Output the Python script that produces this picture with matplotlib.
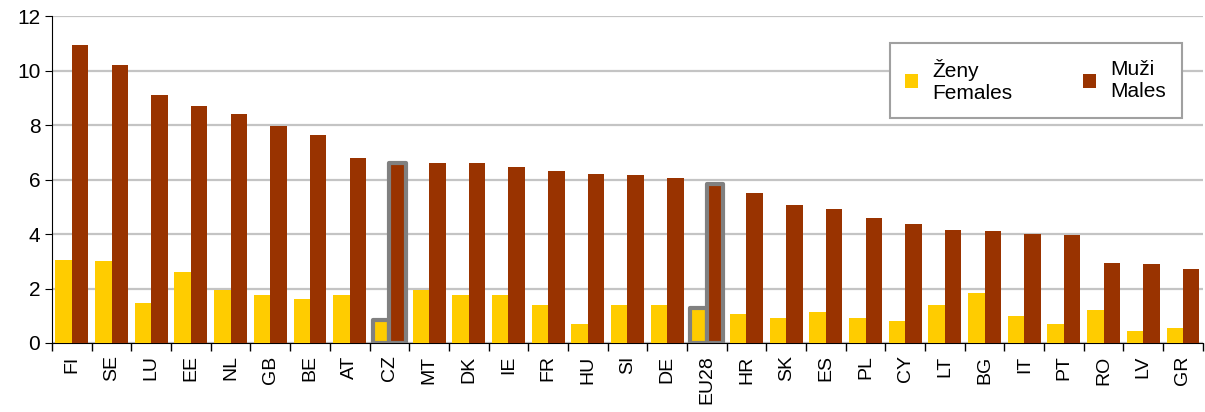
import numpy as np
import matplotlib
matplotlib.use("Agg")
import matplotlib.pyplot as plt

matplotlib.rcParams["font.family"] = ["Liberation Sans", "DejaVu Sans"]

countries = ["FI", "SE", "LU", "EE", "NL", "GB", "BE", "AT", "CZ", "MT", "DK", "IE", "FR", "HU",
             "SI", "DE", "EU28", "HR", "SK", "ES", "PL", "CY", "LT", "BG", "IT", "PT", "RO", "LV", "GR"]
females = [3.05, 3.0, 1.45, 2.6, 1.95, 1.75, 1.6, 1.75, 0.85, 1.95, 1.75, 1.75, 1.4, 0.7,
           1.4, 1.4, 1.3, 1.05, 0.9, 1.15, 0.9, 0.8, 1.4, 1.85, 1.0, 0.7, 1.2, 0.45, 0.55]
males = [10.95, 10.2, 9.1, 8.7, 8.4, 7.95, 7.65, 6.8, 6.6, 6.6, 6.6, 6.45, 6.3, 6.2,
         6.15, 6.05, 5.85, 5.5, 5.05, 4.9, 4.6, 4.35, 4.15, 4.1, 4.0, 3.95, 2.95, 2.9, 2.7]
highlight = ["CZ", "EU28"]

yellow = "#FFCC00"
red = "#993300"

fig = plt.figure(figsize=(12.05, 4.12), dpi=100)
ax = fig.add_axes([0.0432, 0.1675, 0.955, 0.7935])

x = np.arange(len(countries))
w = 0.415
b1 = ax.bar(x - w / 2, females, width=w, color=yellow, label="Ženy\nFemales", zorder=3)
b2 = ax.bar(x + w / 2, males, width=w, color=red, label="Muži\nMales", zorder=3)

# grey frame around CZ and EU28
for i, c in enumerate(countries):
    if c in highlight:
        for b in (b1[i], b2[i]):
            b.set_edgecolor("#808080")
            b.set_linewidth(3)
            b.set_joinstyle("round")

ax.set_xlim(-0.5, len(countries) - 0.5)
ax.set_ylim(0, 12)
ax.set_yticks(range(0, 13, 2))
ax.yaxis.grid(True, color="#c4c4c4", linewidth=1.6, zorder=0)
ax.set_axisbelow(True)

ax.set_xticks(x)
ax.set_xticklabels(countries, rotation=90, fontsize=14)
ax.set_xticks(np.arange(-0.5, len(countries), 1), minor=True)
ax.tick_params(axis="x", which="major", length=0, pad=9)
ax.tick_params(axis="x", which="minor", length=6, width=1, direction="out")
ax.tick_params(axis="y", labelsize=15, length=5, direction="out")

for s in ["top", "right"]:
    ax.spines[s].set_visible(False)
ax.spines["left"].set_color("black")
ax.spines["bottom"].set_color("black")

leg = ax.legend(loc="upper left", bbox_to_anchor=(0.728, 0.917), borderaxespad=0, ncol=2,
                fontsize=15, frameon=True, fancybox=False, edgecolor="#a0a0a0",
                handlelength=0.6, handleheight=0.6, columnspacing=3.4, borderpad=0.75,
                handletextpad=0.7, framealpha=1)
leg.get_frame().set_linewidth(1.5)

fig.savefig("out.png", dpi=100)
